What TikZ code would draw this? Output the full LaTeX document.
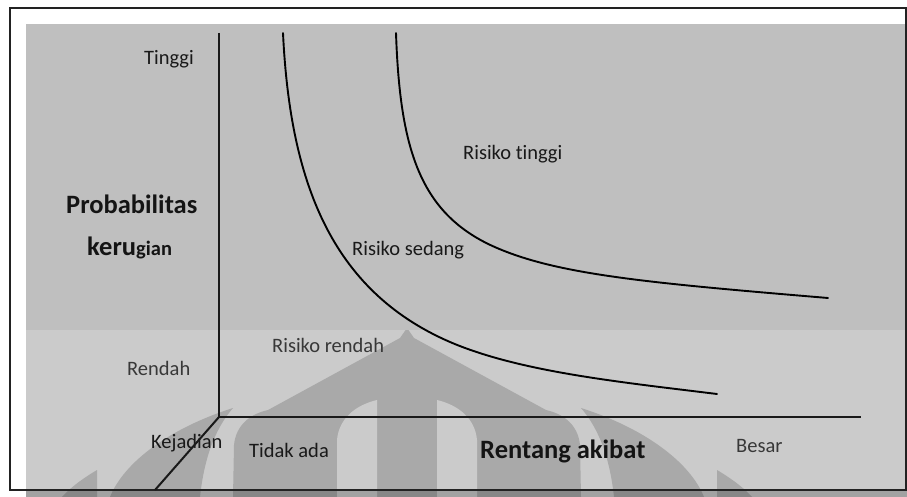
\documentclass[tikz,border=0pt]{standalone}
\usepackage{fontspec}
\setmainfont{Carlito}[Ligatures=NoCommon]
\definecolor{uppergray}{HTML}{BFBFBF}
\definecolor{lowergray}{HTML}{CBCBCB}
\definecolor{markgray}{HTML}{A9A9A9}
\definecolor{framegray}{HTML}{222222}
\begin{document}
\begin{tikzpicture}[x=1pt,y=-1pt,
  lbl/.style={inner sep=0pt, anchor=base west, font=\fontsize{20.5}{24}\selectfont, text=black!90},
  lblsoft/.style={lbl, text=black!78},
  biglbl/.style={inner sep=0pt, anchor=base west, font=\fontsize{26.5}{31}\selectfont\bfseries, text=black!92},
  axisline/.style={line width=2pt, black!90},
  riskcurve/.style={line width=1.9pt, black, line cap=round},
  emblem/.style={fill=markgray}]
\useasboundingbox (0,0) rectangle (907,497);
\fill[white] (0,0) rectangle (907,497);

% two shaded bands
\fill[uppergray] (26,24) rectangle (907,330);
\fill[lowergray] (26,330) rectangle (907,497);

% faded emblem in the lower band
\begin{scope}
  \clip (26,330) rectangle (907,497);
  % central pointed dome
  \fill[emblem] (233,497) -- (234,445) .. controls (236,425) and (250,414) .. (268,410)
    -- (400,338) -- (407,328) -- (414,338) -- (546,410)
    .. controls (564,414) and (578,425) .. (580,445) -- (581,497) -- cycle;
  % openings in the dome
  \fill[lowergray] (337,497) -- (337,440) .. controls (339,418) and (356,405) .. (377,400) -- (377,497) -- cycle;
  \fill[lowergray] (477,497) -- (477,440) .. controls (475,418) and (458,405) .. (437,400) -- (437,497) -- cycle;
  % side petals
  \fill[emblem] (233,408) .. controls (170,428) and (124,462) .. (110,497)
    -- (200,497) .. controls (204,460) and (214,430) .. (233,408) -- cycle;
  \fill[emblem] (581,408) .. controls (644,428) and (690,462) .. (704,497)
    -- (614,497) .. controls (610,460) and (600,430) .. (581,408) -- cycle;
  % small outer petals
  \fill[emblem] (97,470) .. controls (80,480) and (68,490) .. (62,497) -- (97,497) -- cycle;
  \fill[emblem] (717,470) .. controls (734,480) and (746,490) .. (752,497) -- (717,497) -- cycle;
  % strip below the frame
  \fill[black, opacity=0.2] (26,491) rectangle (907,497);
\end{scope}

% frame
\draw[framegray, line width=2pt] (10,8) rectangle (905.5,490);

% axes
\coordinate (top) at (219,33);
\coordinate (origin) at (219,417);
\coordinate (xend) at (861,417);
\coordinate (dend) at (155,490);
\draw[axisline] (top) -- (origin) -- (xend);
\draw[axisline] (origin) -- (dend);

% iso-risk curves
\coordinate (c1a) at (283,33);
\coordinate (c1b) at (450,342);
\coordinate (c1c) at (717,394);
\draw[riskcurve] (c1a) .. controls (290,180) and (330,290) .. (c1b)
  .. controls (520,372) and (620,382) .. (c1c);
\coordinate (c2a) at (396,33);
\coordinate (c2b) at (497,248);
\coordinate (c2c) at (828,298);
\draw[riskcurve] (c2a) .. controls (400,150) and (420,215) .. (c2b)
  .. controls (560,275) and (650,283) .. (c2c);

% labels
\node[lbl, anchor=base east] (tinggi) at (194,65) {Tinggi};
\node[biglbl] (prob) at (66,213) {Probabilitas};
\node[biglbl] (kerugian) at (87,255) {keru{\fontsize{20.5}{24}\selectfont gian}};
\node[lbl] (rtinggi) at (463,160) {Risiko tinggi};
\node[lbl] (rsedang) at (352,255) {Risiko sedang};
\node[lblsoft] (rrendah) at (272,352) {Risiko rendah};
\node[lblsoft] (rendah) at (127,375) {Rendah};
\node[lbl] (kejadian) at (151,448) {Kejadian};
\node[lbl] (tidak) at (249,457) {Tidak ada};
\node[biglbl] (rentang) at (480,458) {Rentang akibat};
\node[lblsoft] (besar) at (736,452) {Besar};
\end{tikzpicture}
\end{document}
